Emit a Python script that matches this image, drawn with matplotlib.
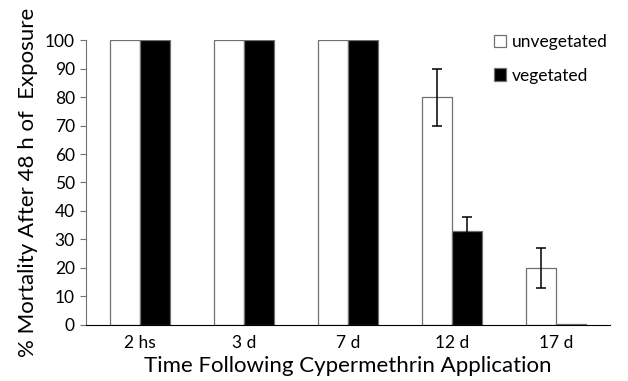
import matplotlib.pyplot as plt
import numpy as np

plt.rcParams['font.family'] = ['Lato', 'DejaVu Sans']

times = ['2 hs', '3 d', '7 d', '12 d', '17 d']
unveg = [100, 100, 100, 80, 20]
veg = [100, 100, 100, 33, 0.4]
unveg_err = [0, 0, 0, 10, 7]
veg_err = [0, 0, 0, 5, 0]

fig = plt.figure(figsize=(6.28, 3.81), dpi=100)
ax = fig.add_axes([0.137, 0.147, 0.834, 0.748])

x = np.arange(len(times))
w = 0.29
ax.bar(x - w/2, unveg, w, color='white', edgecolor='#707070', linewidth=0.9,
       label='unvegetated')
ax.bar(x + w/2, veg, w, color='black', edgecolor='#707070', linewidth=0.9,
       label='vegetated')
# error bars only where there is an error
for i in range(len(times)):
    if unveg_err[i] > 0:
        ax.errorbar(x[i] - w/2, unveg[i], yerr=unveg_err[i], fmt='none',
                    ecolor='black', elinewidth=1.1, capsize=3.5, capthick=1.1)
    if veg_err[i] > 0:
        ax.errorbar(x[i] + w/2, veg[i], yerr=veg_err[i], fmt='none',
                    ecolor='black', elinewidth=1.1, capsize=3.5, capthick=1.1)

ax.set_xlim(-0.52, 4.52)
ax.set_ylim(0, 100)
ax.set_yticks(range(0, 101, 10))
ax.set_xticks(x)
ax.set_xticklabels(times, fontsize=12.5)
ax.tick_params(axis='x', length=0, pad=7)
ax.tick_params(axis='y', length=4, width=0.8, color='#707070', labelsize=12.5, pad=4)
for s in ['top', 'right']:
    ax.spines[s].set_visible(False)
ax.spines['left'].set_color('#707070')
ax.spines['bottom'].set_color('black')

ax.set_ylabel('% Mortality After 48 h of  Exposure', fontsize=16, labelpad=5)
ax.set_xlabel('Time Following Cypermethrin Application', fontsize=16, labelpad=4)

leg = ax.legend(loc='upper right', bbox_to_anchor=(1.025, 1.075), frameon=False,
                fontsize=12.5, handlelength=0.7, handleheight=0.7,
                handletextpad=0.3, labelspacing=1.0)

fig.savefig('out.png', dpi=100)
